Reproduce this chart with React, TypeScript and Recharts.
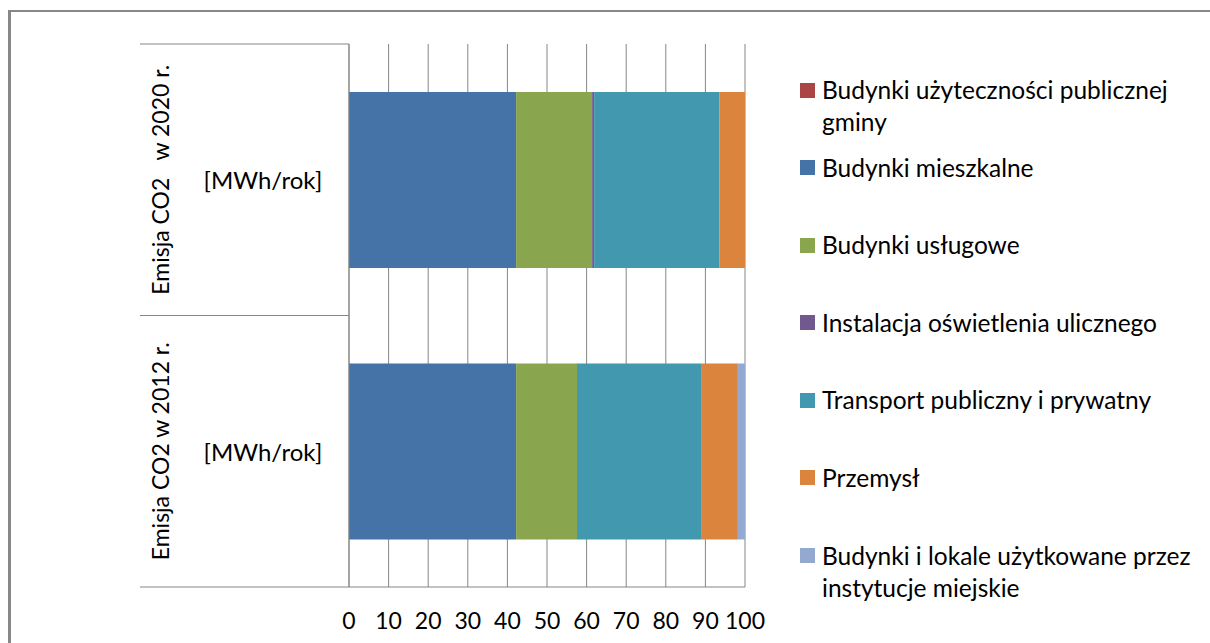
import React from 'react';
import { BarChart, Bar, XAxis, YAxis, CartesianGrid } from 'recharts';

// kategorie (od góry) i podpisy osi
const categories = ['Emisja CO2   w 2020 r.', 'Emisja CO2 w 2012 r.'];
const unitLabel = '[MWh/rok]';
const xTicks = [0, 10, 20, 30, 40, 50, 60, 70, 80, 90, 100];

const seriesKeys = ['gmina', 'mieszkalne', 'uslugowe', 'oswietlenie', 'transport', 'przemysl', 'instytucje'];
const seriesNames = [
  'Budynki użyteczności publicznej gminy',
  'Budynki mieszkalne',
  'Budynki usługowe',
  'Instalacja oświetlenia ulicznego',
  'Transport publiczny i prywatny',
  'Przemysł',
  'Budynki i lokale użytkowane przez instytucje miejskie'
];
const seriesColors = ['#AA4643', '#4572A7', '#89A54E', '#71588F', '#4198AF', '#DB843D', '#93A9CF'];

// udział [%] dla każdej kategorii, w kolejności seriesKeys
const values2020 = [0, 42.2, 19.2, 0.5, 31.6, 6.5, 0];
const values2012 = [0, 42.2, 15.4, 0.2, 31.1, 9.3, 1.8];

const data = [values2020, values2012].map((vals, i) => {
  const row: any = { name: categories[i] };
  seriesKeys.forEach((k, j) => { row[k] = vals[j]; });
  return row;
});

const W = 1210;
const H = 643;
const FONT = 'Lato, "Open Sans", sans-serif';
const GRID = '#868686';
const margin = { top: 44, right: 465, bottom: 0, left: 140 };
const X_AXIS_H = 56;
const Y_AXIS_W = 209;
const plotH = H - margin.top - X_AXIS_H;
const halfBand = plotH / categories.length / 2;

const CategoryTick = (props: any) => {
  const { y, payload } = props;
  const left = margin.left;
  const axisX = margin.left + Y_AXIS_W;
  const rotX = 160;
  const unitX = 263;
  return (
    <g>
      <line x1={left} x2={axisX} y1={y - halfBand} y2={y - halfBand} stroke={GRID} strokeWidth={1} />
      <line x1={left} x2={axisX} y1={y + halfBand} y2={y + halfBand} stroke={GRID} strokeWidth={1} />
      <text
        x={rotX}
        y={y}
        transform={`rotate(-90 ${rotX} ${y})`}
        textAnchor="middle"
        dominantBaseline="central"
        fontFamily={FONT}
        fontSize={23}
        fill="#000"
        style={{ whiteSpace: 'pre' }}
      >
        {payload.value}
      </text>
      <text
        x={unitX}
        y={y}
        textAnchor="middle"
        dominantBaseline="central"
        fontFamily={FONT}
        fontSize={24}
        fill="#000"
      >
        {unitLabel}
      </text>
    </g>
  );
};

const LegendBox = () => (
  <div style={{ position: 'absolute', left: 800, top: 74, width: 410, fontFamily: FONT, fontSize: 24.5, color: '#000' }}>
    {seriesNames.map((n, i) => (
      <div key={n} style={{ position: 'relative', height: 77.6 }}>
        <div style={{ position: 'absolute', left: 0, top: 8.5, width: 15, height: 15, background: seriesColors[i] }} />
        <div style={{ position: 'absolute', left: 22, top: 0, width: 385, lineHeight: '32px' }}>{n}</div>
      </div>
    ))}
  </div>
);

export default function App() {
  return (
    <div style={{ position: 'fixed', left: 0, top: 0, width: W, height: H, background: '#fff', overflow: 'hidden' }}>
      <div
        style={{
          position: 'absolute',
          left: 8,
          top: 10,
          width: W,
          height: H,
          borderLeft: '3px solid #878787',
          borderTop: '2px solid #878787'
        }}
      />
      <div style={{ position: 'absolute', left: 0, top: 0 }}>
        <BarChart width={W} height={H} data={data} layout="vertical" margin={margin} barSize={176}>
          <CartesianGrid horizontal={false} vertical stroke={GRID} strokeWidth={1} />
          <XAxis
            type="number"
            domain={[0, 100]}
            ticks={xTicks}
            interval={0}
            height={X_AXIS_H}
            axisLine={{ stroke: GRID }}
            tickLine={false}
            tickSize={0}
            tickMargin={26}
            tick={{ fontFamily: FONT, fontSize: 23, fill: '#000' }}
          />
          <YAxis
            type="category"
            dataKey="name"
            width={Y_AXIS_W}
            axisLine={{ stroke: GRID }}
            tickLine={false}
            tick={<CategoryTick />}
          />
          {seriesKeys.map((k, i) => (
            <Bar key={k} dataKey={k} name={seriesNames[i]} stackId="a" fill={seriesColors[i]} isAnimationActive={false} />
          ))}
        </BarChart>
      </div>
      <LegendBox />
    </div>
  );
}
